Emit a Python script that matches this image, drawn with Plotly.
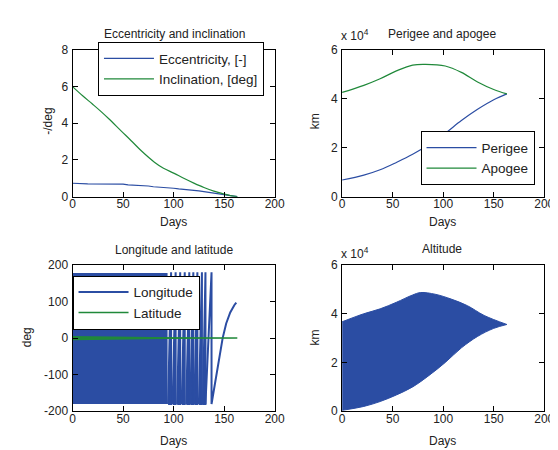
import plotly.graph_objects as go

# ---------------- data ----------------
ecc_days = [0, 12, 15, 50, 55, 75, 80, 100, 105, 125, 130, 150, 155, 163]
ecc_vals = [0.73, 0.73, 0.70, 0.68, 0.64, 0.58, 0.54, 0.46, 0.42, 0.32, 0.28, 0.14, 0.10, 0.0]

inc_days = [0, 10, 19.4, 28, 35.6, 48.5, 58, 68, 81, 90, 100.6, 110, 120, 130, 139.8, 150, 156, 163]
inc_vals = [6.0, 5.5, 5.06, 4.65, 4.26, 3.56, 3.05, 2.5, 1.88, 1.55, 1.27, 1.0, 0.74, 0.5, 0.30, 0.14, 0.06, 0.0]

pa_days = [0, 21.5, 37.6, 53.7, 69.8, 86, 102, 118, 134, 150, 163]
perigee_km = [6800, 8800, 11000, 14000, 17300, 21300, 25900, 31100, 35700, 39600, 42000]
apo_days = [0, 21.5, 37.6, 53.7, 69.8, 82.6, 102, 118, 134, 150, 163]
apogee_km = [42600, 45500, 48200, 51400, 53800, 54100, 53400, 50800, 46900, 43800, 42000]

alt_up_days = [0, 21.5, 37.6, 53.7, 69.8, 77.8, 92, 108, 124, 140.5, 163]
alt_upper_km = [36700, 40000, 42000, 44700, 47700, 48700, 48000, 46000, 43300, 39300, 35600]
alt_lo_days = [0, 21.5, 37.6, 53.7, 69.8, 86, 102, 118, 134, 150, 163]
alt_lower_km = [400, 2000, 4000, 6700, 10000, 14700, 20000, 26000, 30700, 34000, 35600]

# longitude: dense wrapping region (envelope), then individual wraps, then final drift
lon_dense_days = [0, 94]
lon_dense_upper = [178, 178]
lon_dense_lower = [-180, -180]
lon_wrap_start = [94.5, 99, 103.5, 108, 112.5, 116.5, 120.5, 125, 129]
lon_wrap_end = [97.5, 102, 106.5, 111, 115.5, 119.5, 123.5, 128, 131.5]
lon_tail_days = [131.5, 137.5, 137.5, 140, 143, 146, 148.5, 152, 156, 160, 162]
lon_tail_vals = [-180, 180, -180, -140, -90, -40, 0, 40, 70, 90, 97]

lat_days = inc_days
lat_amp = inc_vals

x_ticks = [0, 50, 100, 150, 200]

BLUE = "#2B4DA3"
GREEN = "#20893A"
TXT = "#222222"
FONT = "Liberation Sans, Arial, sans-serif"

fig = go.Figure()

# ---- subplot 1: eccentricity and inclination ----
fig.add_trace(go.Scatter(x=ecc_days, y=ecc_vals, mode="lines", line=dict(color=BLUE, width=1.2),
                         name="Eccentricity, [-]", xaxis="x", yaxis="y", legend="legend"))
fig.add_trace(go.Scatter(x=inc_days, y=inc_vals, mode="lines", line=dict(color=GREEN, width=1.2, shape="spline"),
                         name="Inclination, [deg]", xaxis="x", yaxis="y", legend="legend"))

# ---- subplot 2: perigee and apogee ----
fig.add_trace(go.Scatter(x=pa_days, y=perigee_km, mode="lines", line=dict(color=BLUE, width=1.2, shape="spline"),
                         name="Perigee", xaxis="x2", yaxis="y2", legend="legend2"))
fig.add_trace(go.Scatter(x=apo_days, y=apogee_km, mode="lines", line=dict(color=GREEN, width=1.2, shape="spline"),
                         name="Apogee", xaxis="x2", yaxis="y2", legend="legend2"))

# ---- subplot 3: longitude and latitude ----
fig.add_trace(go.Scatter(x=lon_dense_days, y=lon_dense_lower, mode="lines", line=dict(color=BLUE, width=0),
                         showlegend=False, xaxis="x3", yaxis="y3", hoverinfo="skip"))
fig.add_trace(go.Scatter(x=lon_dense_days, y=lon_dense_upper, mode="lines", line=dict(color=BLUE, width=0),
                         fill="tonexty", fillcolor=BLUE, showlegend=False, xaxis="x3", yaxis="y3", hoverinfo="skip"))
for s, e in zip(lon_wrap_start, lon_wrap_end):
    fig.add_trace(go.Scatter(x=[s, e, e, s], y=[-180, 180, -180, -180], mode="lines",
                             line=dict(color=BLUE, width=2), fill="toself", fillcolor=BLUE,
                             showlegend=False, xaxis="x3", yaxis="y3", hoverinfo="skip"))
fig.add_trace(go.Scatter(x=lon_tail_days, y=lon_tail_vals, mode="lines",
                         line=dict(color=BLUE, width=2), name="Longitude",
                         xaxis="x3", yaxis="y3", legend="legend3"))
fig.add_trace(go.Scatter(x=lat_days, y=[-a for a in lat_amp], mode="lines", line=dict(color=GREEN, width=0),
                         showlegend=False, xaxis="x3", yaxis="y3", hoverinfo="skip"))
fig.add_trace(go.Scatter(x=lat_days, y=lat_amp, mode="lines", line=dict(color=GREEN, width=0),
                         fill="tonexty", fillcolor=GREEN, showlegend=False, xaxis="x3", yaxis="y3", hoverinfo="skip"))
fig.add_trace(go.Scatter(x=[lat_days[0], lat_days[-1]], y=[0, 0], mode="lines",
                         line=dict(color=GREEN, width=1.5), name="Latitude",
                         xaxis="x3", yaxis="y3", legend="legend3"))

# ---- subplot 4: altitude ----
fig.add_trace(go.Scatter(x=alt_lo_days, y=alt_lower_km, mode="lines", line=dict(color=BLUE, width=1, shape="spline"),
                         showlegend=False, xaxis="x4", yaxis="y4", hoverinfo="skip"))
fig.add_trace(go.Scatter(x=alt_up_days, y=alt_upper_km, mode="lines", line=dict(color=BLUE, width=1, shape="spline"),
                         fill="tonexty", fillcolor=BLUE, showlegend=False, xaxis="x4", yaxis="y4"))

LX = [63 / 558, 270 / 558]
RX = [339 / 558, 546 / 558]
TY = [1 - 187.5 / 450, 1 - 36 / 450]
BY = [1 - 409 / 450, 1 - 258 / 450]

def ax(domain, anchor, rng, tickvals=None, ticktext=None, standoff=3):
    d = dict(domain=domain, anchor=anchor, range=rng, showline=True, linecolor="black", linewidth=1,
             mirror="allticks", ticks="inside", ticklen=5, tickcolor="black", showgrid=False,
             zeroline=False, tickfont=dict(size=12, color=TXT, family=FONT), ticklabelstandoff=standoff)
    if tickvals is not None:
        d["tickvals"] = tickvals
        d["ticktext"] = ticktext if ticktext is not None else [str(v) for v in tickvals]
    return d

km_vals = [0, 20000, 40000, 60000]
km_text = ["0", "2", "4", "6"]

legend_common = dict(bgcolor="white", bordercolor="black", borderwidth=1, traceorder="normal",
                     font=dict(size=13.5, color=TXT, family=FONT), tracegroupgap=0, itemwidth=50)

fig.update_layout(
    width=558, height=450, margin=dict(l=0, r=0, t=0, b=0),
    paper_bgcolor="white", plot_bgcolor="white",
    xaxis=ax(LX, "y", [0, 200], x_ticks, standoff=-4),
    yaxis=ax(TY, "x", [0, 8], [0, 2, 4, 6, 8], standoff=1),
    xaxis2=ax(RX, "y2", [0, 200], x_ticks, standoff=-4),
    yaxis2=ax(TY, "x2", [0, 60000], km_vals, km_text, standoff=1),
    xaxis3=ax(LX, "y3", [0, 200], x_ticks, standoff=-4),
    yaxis3=ax(BY, "x3", [-200, 200], [-200, -100, 0, 100, 200], standoff=1),
    xaxis4=ax(RX, "y4", [0, 200], x_ticks, standoff=-4),
    yaxis4=ax(BY, "x4", [0, 60000], km_vals, km_text, standoff=1),
    legend=dict(x=259 / 558, y=1 - 28 / 450, xanchor="right", yanchor="top", **legend_common),
    legend2=dict(x=536 / 558, y=1 - 120 / 450, xanchor="right", yanchor="top", **legend_common),
    legend3=dict(x=63 / 558, y=1 - 269 / 450, xanchor="left", yanchor="top", **legend_common),
    showlegend=True,
)

def txt(x, y, s, xanchor="center", angle=0, size=12):
    fig.add_annotation(x=x / 558, y=1 - y / 450, xref="paper", yref="paper", text=s, showarrow=False,
                       xanchor=xanchor, yanchor="middle", textangle=angle,
                       font=dict(size=size, color=TXT, family=FONT))

txt(167, 20, "Eccentricity and inclination")
txt(441, 20, "Perigee and apogee")
txt(336, 21, "x 10<sup>4</sup>", xanchor="left")
txt(167, 243, "Longitude and latitude")
txt(441, 242, "Altitude")
txt(336, 246, "x 10<sup>4</sup>", xanchor="left")
txt(166, 214, "Days")
txt(442, 214, "Days")
txt(166, 440, "Days")
txt(442, 440, "Days")
txt(37, 110, "-/deg", angle=-90)
txt(311, 110, "km", angle=-90)
txt(16, 333, "deg", angle=-90)
txt(311, 333, "km", angle=-90)

fig.write_html("out.html")
